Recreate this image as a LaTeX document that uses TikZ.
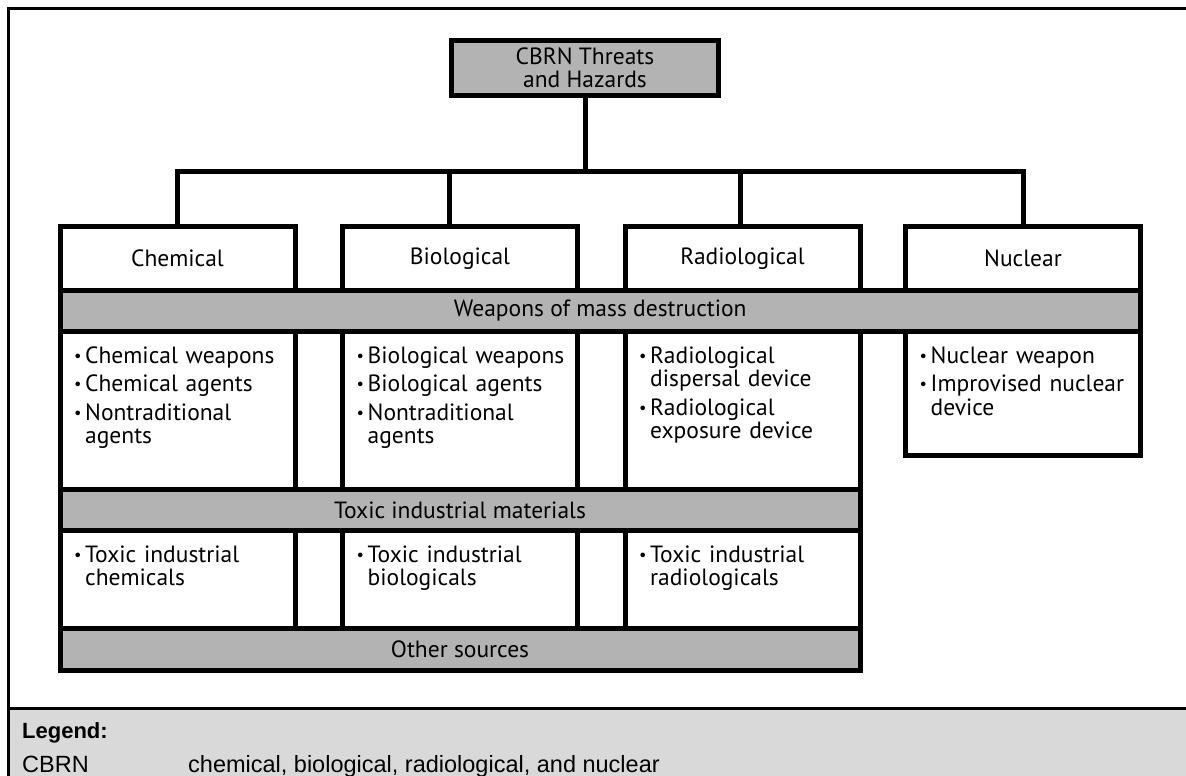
\documentclass[tikz,border=0pt]{standalone}
\usepackage{fontspec}
\setmainfont{PT Sans}
\newfontfamily\legendfont{Liberation Sans}
\usetikzlibrary{positioning}

\definecolor{bandgray}{HTML}{B3B3B3}
\definecolor{legendgray}{HTML}{D9D9D9}

% punto de lista con sangria francesa
\newcommand{\itm}[1]{\par\hangindent=11pt\hangafter=1\noindent\makebox[11pt][l]{\raisebox{0.08em}{\scalebox{0.7}{\textbullet}}}#1\par}

\begin{document}
\begin{tikzpicture}[x=1pt, y=-1pt,
            box/.style={draw, line width=5pt, inner sep=0pt, outer sep=0pt, minimum width=235pt,
                font=\fontsize{23.5}{23.5}\selectfont},
            band/.style={box, fill=bandgray, minimum height=41pt},
            list/.style={anchor=north west, inner sep=0pt, text width=218pt, align=left,
                font=\fontsize{23.5}{23.5}\selectfont, execute at begin node={\setlength{\parskip}{5pt}}},
            conn/.style={line width=5pt},
            legtxt/.style={anchor=base west, inner sep=0pt, font=\legendfont\fontsize{23.5}{26}\selectfont}]
            \useasboundingbox (0,0) rectangle (1186,776);

            % Leyenda abajo
            \fill[legendgray] (8.5,708) rectangle (1186,776);
            \draw[line width=3pt] (8.5,708) -- (1186,708);
            \draw[line width=3pt] (8.5,776) -- (8.5,8.5) -- (1186,8.5);
            \node[legtxt, font=\legendfont\bfseries\fontsize{22}{26}\selectfont] (legtitle) at (22,738) {Legend:};
            \node[legtxt] (cbrnabbr) at (22,772) {CBRN};
            \node[legtxt] (cbrndef) at (188,772) {chemical, biological, radiological, and nuclear};

            % Caja de arriba
            \node[box, fill=bandgray, minimum width=266.5pt, minimum height=54.5pt, align=center]
                (cbrn) at (585,67.75) {CBRN Threats\\and Hazards};

            % Las cuatro categorias
            \node[box, minimum height=64pt] (chem) at (177.5,258.5) {Chemical};
            \node[box, minimum height=64pt] (bio) at (460,258.5) {Biological};
            \node[box, minimum height=64pt] (rad) at (742.5,258.5) {Radiological};
            \node[box, minimum height=64pt] (nuc) at (1023,258.5) {Nuclear};

            % Conexiones
            \coordinate (bus) at (585,171.5);
            \draw[conn] (cbrn) -- (bus);
            \draw[conn] (chem.north) |- (bus) -| (nuc.north);
            \draw[conn] ([xshift=-11pt]bio.north) -- ([xshift=-11pt]bio.north |- bus);
            \draw[conn] ([xshift=-2pt]rad.north) -- ([xshift=-2pt]rad.north |- bus);

            % Cajas de contenido
            \node[box, minimum height=158pt] (chemw) at (177.5,410.5) {};
            \node[box, minimum height=158pt] (biow) at (460,410.5) {};
            \node[box, minimum height=158pt] (radw) at (742.5,410.5) {};
            \node[box, minimum height=123.5pt] (nucw) at (1023,393.25) {};
            \node[box, minimum height=98pt] (chemt) at (177.5,579.5) {};
            \node[box, minimum height=98pt] (biot) at (460,579.5) {};
            \node[box, minimum height=98pt] (radt) at (742.5,579.5) {};

            % Franjas grises
            \node[band, minimum width=1080.5pt] (wmd) at (600.25,311) {Weapons of mass destruction};
            \node[band, minimum width=800pt] (tim) at (460,510) {Toxic industrial materials};
            \node[band, minimum width=800pt, minimum height=41.5pt] (other) at (460,649.25) {Other sources};

            % Textos de las listas
            \node[list] (chemwl) at ([shift={(14,3)}]chemw.north west)
                {\itm{Chemical weapons}\itm{Chemical agents}\itm{Nontraditional\newline agents}};
            \node[list] (biowl) at ([shift={(14,3)}]biow.north west)
                {\itm{Biological weapons}\itm{Biological agents}\itm{Nontraditional\newline agents}};
            \node[list] (radwl) at ([shift={(14,3)}]radw.north west)
                {\itm{Radiological\newline dispersal device}\itm{Radiological\newline exposure device}};
            \node[list] (nucwl) at ([shift={(14,3)}]nucw.north west)
                {\itm{Nuclear weapon}\itm{Improvised nuclear\newline device}};
            \node[list] (chemtl) at ([shift={(14,3)}]chemt.north west)
                {\itm{Toxic industrial\newline chemicals}};
            \node[list] (biotl) at ([shift={(14,3)}]biot.north west)
                {\itm{Toxic industrial\newline biologicals}};
            \node[list] (radtl) at ([shift={(14,3)}]radt.north west)
                {\itm{Toxic industrial\newline radiologicals}};
        \end{tikzpicture}
\end{document}
